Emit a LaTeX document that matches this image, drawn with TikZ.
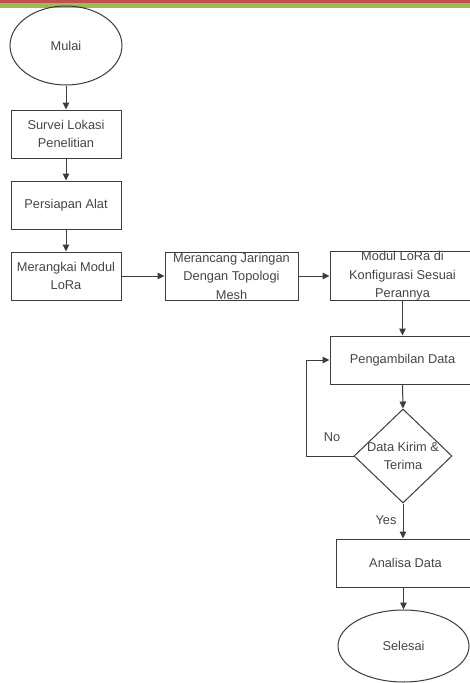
\documentclass[tikz,border=0pt]{standalone}
\usepackage{fontspec}
\setmainfont{Liberation Sans}
\usetikzlibrary{shapes.geometric,arrows.meta}
\definecolor{bandred}{RGB}{192,80,77}
\definecolor{bandgreen}{RGB}{155,187,89}
\definecolor{ln}{RGB}{60,60,60}
\definecolor{tx}{RGB}{70,70,70}
\begin{document}
\begin{tikzpicture}[x=1pt,y=-1pt,
  font=\fontsize{12.8}{18.5}\selectfont,
  base/.style={draw=ln,line width=1pt,text=tx,inner sep=0pt,align=center},
  procbox/.style={base,rectangle,minimum height=48pt},
  term/.style={base,ellipse},
  decision/.style={base,diamond,minimum width=98pt,minimum height=94pt},
  plain/.style={text=tx,inner sep=0pt,align=center},
  arr/.style={draw=ln,line width=1pt,-{Triangle[length=7pt,width=6.5pt]}},
  link/.style={draw=ln,line width=1pt}]
\clip (0,0) rectangle (470,683);
\fill[white] (0,0) rectangle (470,683);
\fill[bandred] (0,0) rectangle (470,3.4);
\fill[bandgreen] (0,3.4) rectangle (470,7.8);
\node[term,minimum width=112pt,minimum height=79pt] (mulai) at (66,45.5) {Mulai};
\node[procbox,minimum width=110pt] (survei) at (66,134) {Survei Lokasi\\Penelitian};
\node[procbox,minimum width=110pt] (persiapan) at (66,205) {Persiapan Alat};
\node[procbox,minimum width=110pt] (merangkai) at (66,276) {Merangkai Modul\\LoRa};
\node[procbox,minimum width=133pt] (merancang) at (231.5,276) {Merancang Jaringan\\Dengan Topologi\\Mesh};
\node[procbox,minimum width=145pt] (modul) at (402.5,276) {Modul LoRa di\\Konfigurasi Sesuai\\Perannya};
\node[procbox,minimum width=145pt] (ambil) at (402.5,360) {Pengambilan Data};
\node[decision] (cek) at (403,456) {};
\node[plain] (cektext) at (403,456) {Data Kirim \&\\Terima};
\node[procbox,minimum width=139pt] (analisa) at (405.5,563) {Analisa Data};
\node[term,minimum width=131pt,minimum height=72pt] (selesai) at (403.5,646) {Selesai};
\node[plain] (nolabel) at (332,437) {No};
\node[plain] (yeslabel) at (386,520) {Yes};
\draw[arr] (mulai.south) -- (survei.north);
\draw[arr] (survei.south) -- (persiapan.north);
\draw[arr] (persiapan.south) -- (merangkai.north);
\draw[arr] (merangkai.east) -- (merancang.west);
\draw[arr] (merancang.east) -- (modul.west);
\draw[arr] (modul.south) -- (ambil.north);
\draw[arr] (ambil.south) -- (cek.north);
\draw[arr] (cek.south) -- (cek.south |- analisa.north);
\draw[arr] (analisa.south -| selesai.north) -- (selesai.north);
\draw[arr] (cek.west) -- ++(-47,0) |- (ambil.west);
\end{tikzpicture}
\end{document}
